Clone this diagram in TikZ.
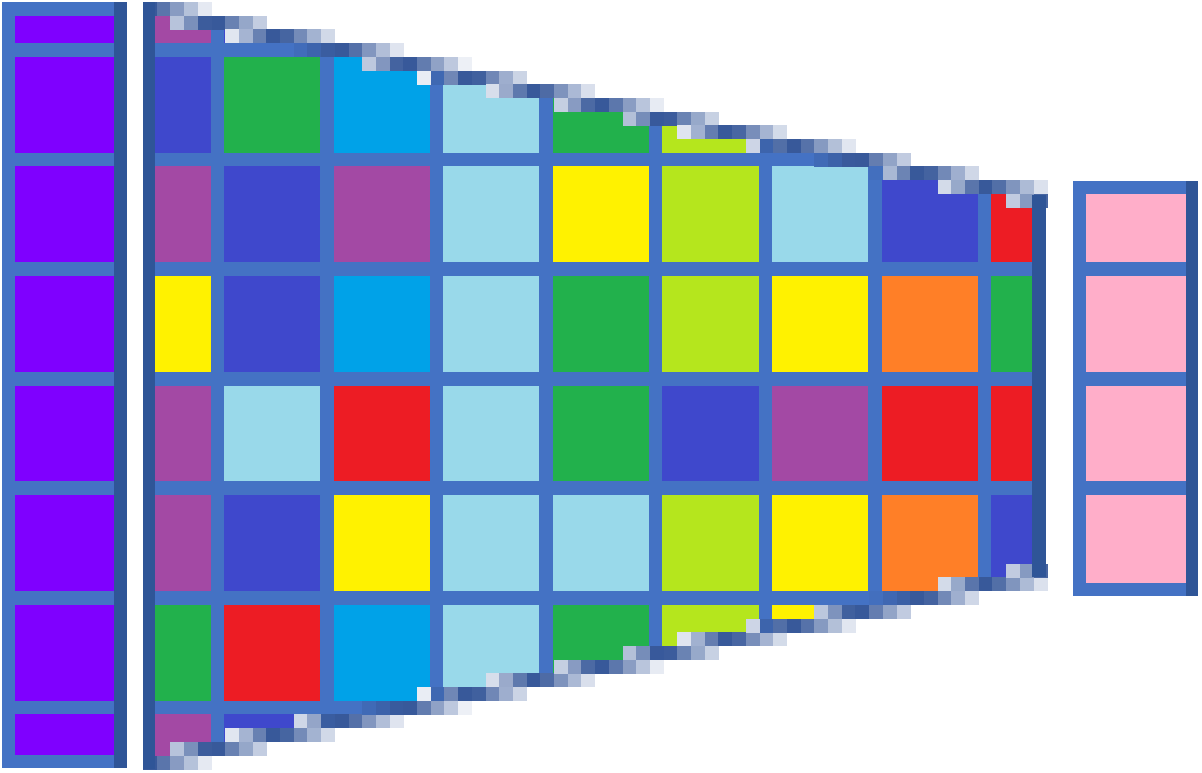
\documentclass[tikz,border=0pt]{standalone}
\definecolor{gridblue}{HTML}{4472C4}
\definecolor{darkblue}{HTML}{2F5597}
\definecolor{stairblue}{HTML}{38599A}
\definecolor{pviolet}{HTML}{7F00FF}
\definecolor{pmag}{HTML}{A349A4}
\definecolor{pind}{HTML}{3F48CC}
\definecolor{pgreen}{HTML}{22B14C}
\definecolor{pcyan}{HTML}{00A2E8}
\definecolor{plblue}{HTML}{99D9EA}
\definecolor{pyellow}{HTML}{FFF200}
\definecolor{plime}{HTML}{B5E61D}
\definecolor{porange}{HTML}{FF7F27}
\definecolor{pred}{HTML}{ED1C24}
\definecolor{ppink}{HTML}{FFAEC9}
\begin{document}
\begin{tikzpicture}[x=1pt,y=-1pt]
\useasboundingbox (0,0) rectangle (1202,772);
% left column
\fill[gridblue] (2,2) rectangle (127,768);
\fill[darkblue] (114,2) rectangle (127,768);
\foreach \ya/\yb in {16/43,56.7/152.6,166.3/262.2,275.9/371.8,385.5/481.4,495.1/591,604.7/700.6,714.3/755}
  \fill[pviolet] (15,\ya) rectangle (114,\yb);
% right column
\fill[gridblue] (1073,181) rectangle (1198,596);
\fill[darkblue] (1186,181) rectangle (1198,596);
\foreach \ya/\yb in {194/262.2,275.9/371.8,385.5/481.4,495.1/583}
  \fill[ppink] (1086,\ya) rectangle (1186,\yb);
% middle trapezoid grid
\coordinate (tl) at (143,7.8);
\coordinate (tr) at (1046,199.7);
\coordinate (br) at (1046,571.5);
\coordinate (bl) at (143,763.4);
\begin{scope}
\clip (tl) -- (tr) -- (br) -- (bl) -- cycle;
\fill[gridblue] (143,0) rectangle (1046,772);
\foreach \r/\row in {
 0/{pmag,pind,pcyan,plblue,pgreen,plime,plblue,pind,pred},
 1/{pind,pgreen,pcyan,plblue,pgreen,plime,plblue,pind,pred},
 2/{pmag,pind,pmag,plblue,pyellow,plime,plblue,pind,pred},
 3/{pyellow,pind,pcyan,plblue,pgreen,plime,pyellow,porange,pgreen},
 4/{pmag,plblue,pred,plblue,pgreen,pind,pmag,pred,pred},
 5/{pmag,pind,pyellow,plblue,plblue,plime,pyellow,porange,pind},
 6/{pgreen,pred,pcyan,plblue,pgreen,plime,pyellow,porange,pind},
 7/{pmag,pind,pcyan,plblue,pgreen,plime,pyellow,porange,pind}}{
  \foreach \col [count=\c] in \row {
    \pgfmathsetmacro\xa{\c==1 ? 155 : 224+109.6*(\c-2)}
    \pgfmathsetmacro\xb{\c==9 ? 1032 : 210.5+109.6*(\c-1)}
    \pgfmathsetmacro\ya{\r==0 ? -20 : 109.6*\r-52.9}
    \pgfmathsetmacro\yb{\r==7 ? 790 : 43+109.6*\r}
    \fill[\col] (\xa,\ya) rectangle (\xb,\yb);
  }
}
\end{scope}
% pixel staircase edges (top and mirrored bottom)
\foreach \i in {0,...,65}{
  \pgfmathsetmacro\cx{143+13.7*(\i+0.5)}
  \pgfmathsetmacro\yl{64.5+0.2125*(\cx-410)}
  \pgfmathtruncatemacro\onv{(\cx>210 && mod(\cx-210.5,109.6)<13.5) ? 1 : 0}
  \foreach \j in {0,...,16}{
    \pgfmathsetmacro\cy{2+13.7*(\j+0.5)}
    \pgfmathsetmacro\cyb{771.2-\cy}
    \pgfmathsetmacro\dy{\cy-\yl}
    \pgfmathtruncatemacro\inside{\dy>0 ? 1 : 0}
    \pgfmathtruncatemacro\pc{\inside==1 ? 100*max(0,min(1,(11-\dy)/9.5)) : 100*max(0,min(1,(13.75+\dy)/12.5))}
    \ifnum\pc>8
      \pgfmathtruncatemacro\ont{(\inside==1 && (\onv==1 || (\cy>43 && mod(\cy-43,109.6)<13.7))) ? 1 : 0}
      \pgfmathtruncatemacro\onb{(\inside==1 && (\onv==1 || mod(\cyb-43,109.6)<13.7)) ? 1 : 0}
      \pgfmathsetmacro\xa{143+13.7*\i}
      \pgfmathsetmacro\ya{2+13.7*\j}
      \pgfmathsetmacro\yb{2+13.7*(55-\j)}
      \ifnum\ont=1
        \fill[stairblue!\pc!gridblue] (\xa,\ya) rectangle ++(14,14);
      \else
        \fill[stairblue!\pc!white] (\xa,\ya) rectangle ++(14,14);
      \fi
      \ifnum\onb=1
        \fill[stairblue!\pc!gridblue] (\xa,\yb) rectangle ++(14,14);
      \else
        \fill[stairblue!\pc!white] (\xa,\yb) rectangle ++(14,14);
      \fi
    \fi
  }
}
\fill[darkblue] (143,2) rectangle (155,769);
\fill[darkblue] (1032,195) rectangle (1046,577);
\end{tikzpicture}
\end{document}
